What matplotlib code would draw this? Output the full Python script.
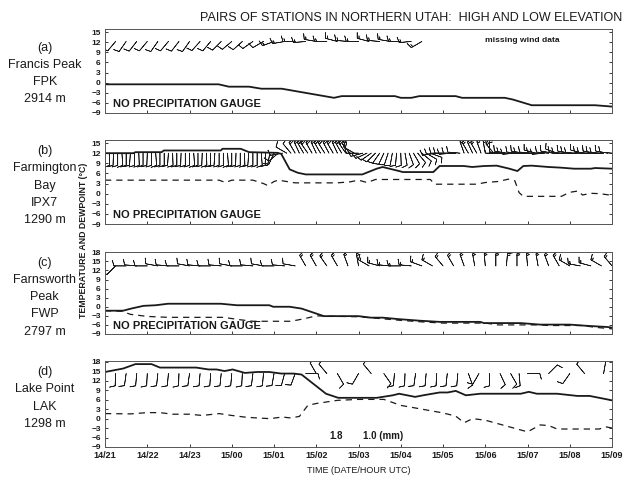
import matplotlib
matplotlib.use("Agg")
import matplotlib.pyplot as plt
from matplotlib import font_manager
import numpy as np

plt.rcParams['font.family'] = ['Liberation Sans', 'DejaVu Sans']
have_narrow = any(f.name == 'Liberation Sans Narrow' for f in font_manager.fontManager.ttflist)

# hours after 14/21 UTC
hour_labels = ["14/21", "14/22", "14/23", "15/00", "15/01", "15/02", "15/03",
               "15/04", "15/05", "15/06", "15/07", "15/08", "15/09"]

# (a) Francis Peak FPK - temperature only
fpk_hr = [0, 2.69, 2.93, 3.41, 3.7, 4.18, 5.42, 5.6, 6.86, 7.0, 7.25, 7.44,
          8.3, 8.45, 9.46, 9.65, 10.1, 11.6, 12.0]
fpk_temp = [-0.5, -0.5, -1.2, -1.2, -1.8, -1.8, -4.5, -4.0, -4.0, -4.5, -4.5,
            -4.0, -4.0, -4.5, -4.5, -5.0, -6.7, -6.7, -7.1]
fpk_wind_hr = np.arange(0, 7.51, 0.25)
fpk_wind_dir = [215, 220, 215, 218, 220, 215, 220, 218, 215, 222, 220, 225,
                230, 228, 235, 240, 250, 260, 270, 265, 280, 270, 285, 275,
                270, 285, 275, 280, 270, 265, 240]
fpk_wind_spd = [10] * 16 + [15] * 15

# (b) Farmington Bay IPX7
ipx_hr = [0, 0.67, 0.72, 1.34, 1.39, 2.74, 2.78, 3.21, 3.41, 4.08, 4.17, 4.37,
          4.56, 4.75, 6.09, 6.43, 6.57, 6.96, 7.05, 7.77, 7.92, 8.49, 8.69,
          8.98, 9.27, 9.57, 9.76, 9.9, 10.1, 10.5, 10.8, 11.1, 11.5, 11.6, 12.0]
ipx_temp = [12.0, 12.0, 12.3, 12.3, 12.8, 12.8, 13.3, 13.3, 12.3, 12.1, 11.8,
            7.2, 6.2, 5.7, 5.7, 7.4, 7.9, 6.7, 6.4, 6.4, 8.2, 8.2, 7.9, 8.2,
            8.3, 7.4, 6.7, 8.2, 8.3, 7.9, 7.7, 7.4, 7.4, 7.6, 7.4]
ipx_dew_hr = [0, 2.7, 2.85, 3.0, 3.5, 3.75, 3.85, 4.0, 4.1, 4.3, 4.5, 5.5, 5.8,
              6.0, 6.2, 6.4, 7.7, 7.8, 8.8, 9.0, 9.3, 9.55, 9.7, 9.8, 9.9,
              10.8, 11.0, 11.2, 11.3, 11.5, 11.7, 12.0]
ipx_dew = [4.0, 4.0, 3.3, 4.0, 4.0, 3.0, 2.4, 3.6, 4.0, 3.6, 3.2, 3.2, 3.5,
           4.0, 3.3, 4.2, 4.2, 2.8, 2.8, 3.3, 3.6, 4.3, 3.8, 0.3, -0.8, -0.8,
           0.4, 0.8, -0.4, 0.1, 0.0, -0.5]
ipx_wind_hr = np.arange(0, 12.01, 0.1)
ipx_wind_dir = [180, 178, 182, 180, 176, 180, 184, 180, 178, 180,
                182, 180, 176, 180, 180, 184, 178, 180, 182, 180,
                180, 176, 180, 182, 178, 180, 184, 180, 180, 176,
                180, 182, 180, 178, 184, 180, 180, 176, 182, 190, 205,
                230, 260, 300, 320,
                330, 335, 330, 325, 330, 335, 330, 328, 332, 330, 335, 330,
                325, 320, 300,
                270, 255, 245, 235, 225, 215, 205, 198, 190, 185, 178, 170,
                160, 150, 140, 130, 120, 110,
                260, 265, 270, 270, 265, 270, 275,
                340, 330, 335, 330, 340, 350, 0, 320,
                270, 275, 280, 270, 265, 275, 280, 270, 275, 285, 270, 265,
                275, 280, 290, 275, 270, 280, 275, 270, 285, 275, 270, 280,
                275, 270, 280, 275]
ipx_wind_spd = [10] * 45 + [20] * 15 + [10] * 25 + [15] * 8 + [10] * 28

# (c) Farnsworth Peak FWP
fwp_hr = [0, 0.43, 0.62, 0.91, 1.2, 1.49, 2.74, 3.12, 3.89, 3.98, 4.37, 4.65,
          5.18, 6.0, 6.29, 6.57, 6.96, 7.44, 7.92, 8.88, 8.97, 9.84, 10.3,
          11.0, 11.4, 11.9, 12.0]
fwp_temp = [-1.3, -1.3, -0.6, 0.3, 0.5, 1.0, 1.0, 0.5, 0.5, 0.0, 0.0, -0.6,
            -3.1, -3.1, -3.6, -3.6, -4.1, -4.6, -5.0, -5.0, -5.4, -5.4, -5.9,
            -5.9, -6.3, -6.7, -6.9]
fwp_dew_hr = [0, 0.4, 0.6, 1.0, 1.5, 2.8, 3.2, 3.5, 4.4, 4.7, 5.0, 5.2, 6.0,
              6.5, 7.0, 7.5, 8.0, 9.0, 9.3, 10.3, 10.5, 11.3, 11.6, 12.0]
fwp_dew = [-1.3, -1.5, -2.5, -3.2, -3.5, -3.5, -4.3, -4.8, -4.8, -4.0, -3.0,
           -3.1, -3.3, -3.9, -4.5, -5.0, -5.4, -5.4, -6.0, -6.0, -6.2, -6.2,
           -6.8, -7.3]
fwp_wind_hr = np.arange(0, 12.01, 0.25)
fwp_wind_dir = [220, 225, 270, 275, 270, 280, 275, 270, 280, 275, 270, 275,
                280, 270, 275, 280, 270, 275, 280,
                330, 330, 325, 330, 340, 350, 300, 285, 275, 270, 275, 290,
                300, 320, 330, 340, 350, 355, 0, 5, 0, 355, 350, 340, 330,
                300, 280, 285, 300, 320]
fwp_wind_spd = [10] * 19 + [15] * 30

# (d) Lake Point LAK
lak_hr = [0, 0.43, 0.72, 1.1, 1.3, 2.16, 2.45, 2.64, 2.83, 3.02, 3.31, 3.6,
          3.89, 4.17, 4.46, 4.65, 5.23, 5.52, 6.43, 6.81, 6.96, 7.34, 7.53,
          7.92, 8.11, 8.3, 8.54, 8.88, 9.84, 10.03, 10.22, 10.7, 11.18, 11.47,
          12.0]
lak_temp = [14.8, 15.9, 17.3, 17.3, 16.2, 16.2, 15.6, 15.6, 15.1, 15.6, 14.5,
            14.8, 14.8, 14.3, 14.3, 14.0, 7.9, 6.6, 6.6, 7.4, 7.9, 6.9, 7.4,
            8.3, 8.3, 8.8, 7.4, 7.9, 7.9, 8.5, 7.9, 7.9, 7.2, 7.2, 5.8]
lak_dew_hr = [0, 0.6, 1.0, 1.3, 1.6, 2.0, 2.3, 2.7, 3.0, 3.3, 3.6, 3.9, 4.2,
              4.4, 4.6, 4.8, 5.0, 5.5, 6.0, 6.6, 7.0, 7.5, 8.0, 8.3, 8.5, 8.7,
              9.0, 10.0, 10.3, 10.5, 10.7, 11.7, 11.85, 12.0]
lak_dew = [1.6, 1.5, 1.9, 1.9, 1.4, 1.4, 1.0, 1.6, 1.0, 0.5, 0.2, 0.0, 0.5,
           0.2, 0.7, 4.2, 4.8, 5.8, 6.1, 6.1, 4.2, 3.0, 1.8, 0.8, -1.3, 0.0,
           -0.5, -4.2, -2.0, -2.2, -3.3, -3.3, -2.6, -3.0]
lak_wind_hr = [0, 0.25, 0.5, 0.75, 1.0, 1.25, 1.5, 1.75, 2.0, 2.25, 2.5, 2.75,
               3.0, 3.25, 3.5, 3.75, 4.0, 4.25, 4.5, 4.75, 5.0, 5.25, 5.5,
               6.0, 6.3, 6.6, 6.85, 7.1, 7.35, 7.6, 7.85, 8.1, 8.35, 8.6,
               8.85, 9.1, 9.35, 9.6, 9.8, 10.0, 10.5, 11.0, 11.35, 11.8]
lak_wind_dir = [185, 182, 188, 185, 183, 186, 185, 182, 188, 185, 184, 186,
                185, 183, 187, 185, 190, 195, 200, 90, 330, 320, 150,
                210, 320, 145, 185, 182, 188, 185, 183, 186, 185, 160,
                210, 180, 155, 150, 175, 90, 45, 215, 320, 10]
lak_wind_spd = [10] * 44
lak_precip_hr = [5.3, 6.1]
lak_precip = ["1.8", "1.0 (mm)"]

stations = [
    ("(a)\nFrancis Peak\nFPK\n2914 m", fpk_hr, fpk_temp, None, None,
     fpk_wind_hr, fpk_wind_dir, fpk_wind_spd, 12.2, (-9, 15.9), range(-9, 16, 3)),
    ("(b)\nFarmington\nBay\nIPX7\n1290 m", ipx_hr, ipx_temp, ipx_dew_hr, ipx_dew,
     ipx_wind_hr, ipx_wind_dir, ipx_wind_spd, 12.0, (-9, 15.9), range(-9, 16, 3)),
    ("(c)\nFarnsworth\nPeak\nFWP\n2797 m", fwp_hr, fwp_temp, fwp_dew_hr, fwp_dew,
     fwp_wind_hr, fwp_wind_dir, fwp_wind_spd, 13.5, (-9, 18.1), range(-9, 19, 3)),
    ("(d)\nLake Point\nLAK\n1298 m", lak_hr, lak_temp, lak_dew_hr, lak_dew,
     lak_wind_hr, lak_wind_dir, lak_wind_spd, 14.3, (-9, 18.3), range(-9, 19, 3)),
]

# axes boxes in figure fractions (left, bottom, width, height)
boxes = [(0.1667, 0.7646, 0.8048, 0.175),
         (0.1667, 0.5333, 0.8048, 0.175),
         (0.1667, 0.3042, 0.8048, 0.1708),
         (0.1667, 0.0688, 0.8048, 0.1792)]
# vertical centre of each station caption
name_y = [0.847, 0.6135, 0.381, 0.171]

fig = plt.figure(figsize=(6.3, 4.8), dpi=100)
ink = '#1a1a1a'

for i, (name, thr, temp, dhr, dew, whr, wdir, wspd, wy, ylim, yt) in enumerate(stations):
    ax = fig.add_axes(boxes[i])
    ax.plot(thr, temp, color=ink, lw=1.3)
    if dhr is not None:
        ax.plot(dhr, dew, color=ink, lw=0.9, dashes=(5, 4))
    rad = np.deg2rad(wdir)
    u = -np.array(wspd) * np.sin(rad)
    v = -np.array(wspd) * np.cos(rad)
    ax.barbs(whr, np.full(len(whr), wy), u, v, length=4.2, linewidth=0.5,
             color=ink, pivot='tip', sizes=dict(height=0.45, spacing=0.15))
    ax.set_xlim(0, 12)
    ax.set_ylim(*ylim)
    ax.set_yticks(list(yt))
    ax.set_xticks(range(13))
    ax.tick_params(direction='in', length=2.5, width=0.6, right=True,
                   labelsize=6, pad=3, colors=ink)
    for lab in ax.get_yticklabels():
        lab.set_fontweight('bold')
    if i < 3:
        ax.set_xticklabels([])
        ax.text(0.2, -6.2, "NO PRECIPITATION GAUGE", fontsize=8,
                fontweight='bold', color=ink, va='center')
    else:
        ax.set_xticklabels(hour_labels, fontsize=6.5, fontweight='bold')
        for h, s in zip(lak_precip_hr, lak_precip):
            ax.text(h, -5.6, s, fontsize=7, fontweight='bold', color=ink,
                    va='center', ha='left')
    for sp in ax.spines.values():
        sp.set_linewidth(0.7)
        sp.set_color('#555555')
    fig.text(0.071, name_y[i], name, ha='center', va='center', fontsize=9,
             linespacing=1.58, color=ink)
    if i == 0:
        ax.text(9.0, 12.6, "missing wind data", fontsize=6.1,
                fontweight='bold', color=ink, va='center')

if have_narrow:
    fig.text(0.652, 0.962, "PAIRS OF STATIONS IN NORTHERN UTAH:  HIGH AND LOW ELEVATION",
             ha='center', va='center', fontsize=11, color=ink,
             family=['Liberation Sans Narrow', 'Liberation Sans'])
else:
    fig.text(0.652, 0.962, "PAIRS OF STATIONS IN NORTHERN UTAH:  HIGH AND LOW ELEVATION",
             ha='center', va='center', fontsize=9, color=ink)
fig.text(0.132, 0.5, "TEMPERATURE AND DEWPOINT (\u00b0C)", rotation=90,
         ha='center', va='center', fontsize=6.3, fontweight='bold', color=ink)
fig.text(0.57, 0.019, "TIME (DATE/HOUR UTC)", ha='center', va='center',
         fontsize=6.5, color=ink)

fig.savefig("out.png", dpi=100)
